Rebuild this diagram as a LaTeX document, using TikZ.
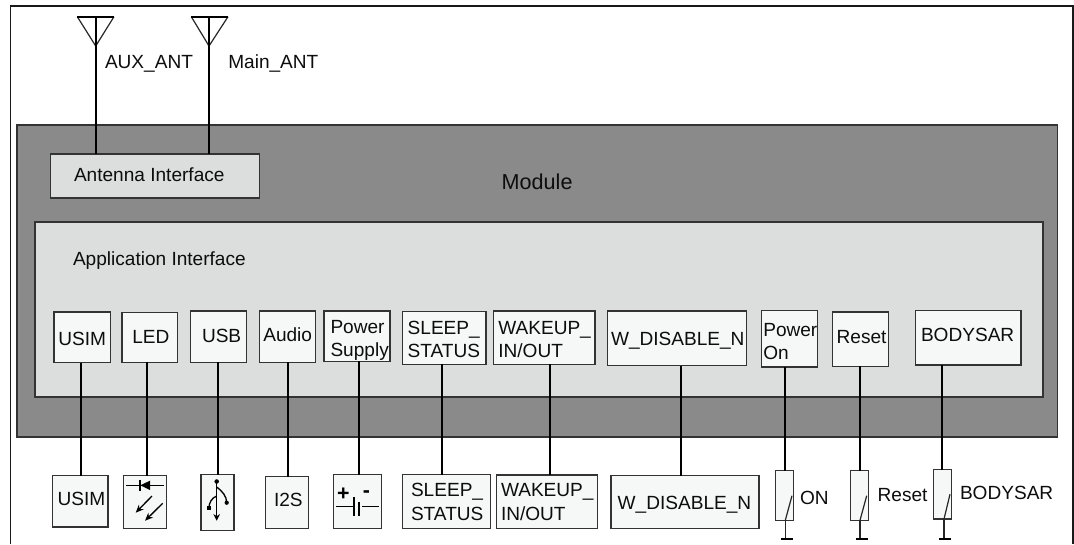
\documentclass[tikz,border=0pt]{standalone}
\usepackage{fontspec}
\setmainfont{Liberation Sans}
\usetikzlibrary{arrows.meta}
\definecolor{modgray}{HTML}{8A8A8A}
\definecolor{ifgray}{HTML}{DCDDDD}
\definecolor{boxgray}{HTML}{F6F7F7}
\definecolor{edge}{HTML}{333333}
\tikzset{
  every node/.style={font=\fontsize{14.3}{17.7}\selectfont,text=black!95},
  boxbase/.style={rectangle,draw=edge,line width=1pt,inner sep=0pt,outer sep=0pt},
  module/.style={boxbase,fill=modgray},
  iface/.style={boxbase,fill=ifgray},
  whitebox/.style={boxbase,fill=boxgray},
  wire/.style={draw=black,line width=1.6pt},
  thinline/.style={draw=black!85,line width=0.9pt},
  iconline/.style={draw=black,line width=1pt},
  lbl/.style={anchor=base west,inner sep=0pt,outer sep=0pt},
  sign/.style={inner sep=0pt,font=\fontsize{16}{18}\selectfont\bfseries,text=black},
  frameline/.style={draw=black!90,line width=1.1pt}
}
% style, name, x0, y0, x1, y1, text left, first baseline, text (pixel coordinates)
\newcommand{\pxbox}[9][whitebox]{%
  \pgfmathsetmacro{\pxw}{(#5-#3)*0.75}%
  \pgfmathsetmacro{\pxh}{(#6-#4)*0.75}%
  \pgfmathsetmacro{\pxcx}{(#3+#5)/2}%
  \pgfmathsetmacro{\pxcy}{(#4+#6)/2}%
  \pgfmathsetmacro{\pxdx}{(#7-\pxcx)*0.75}%
  \pgfmathsetmacro{\pxdy}{(\pxcy-#8)*0.75}%
  \node[#1,minimum width=\pxw pt,minimum height=\pxh pt] (#2) at (\pxcx,\pxcy)
    {\raisebox{\pxdy pt}[0pt][0pt]{\makebox[0pt][l]{\hspace*{\pxdx pt}\begin{tabular}[t]{@{}l@{}}#9\end{tabular}}}};%
}
\begin{document}
\begin{tikzpicture}[x=0.75pt,y=-0.75pt]
\useasboundingbox (0,0) rectangle (1074,544);
% outer frame
\coordinate (fa) at (10.5,544); \coordinate (fb) at (10.5,6);
\coordinate (fc) at (1073,6); \coordinate (fd) at (1073,544);
\draw[frameline] (fa) -- (fb) -- (fc) -- (fd);

\pxbox[module]{module}{17}{125}{1057.5}{437}{501.7}{189.3}{\fontsize{16.2}{18}\selectfont Module}
\pxbox[iface]{appif}{35}{222}{1043}{397}{73}{265}{Application Interface}
\pxbox[iface]{antif}{50.5}{154}{259.5}{198}{74}{181.7}{Antenna Interface}

% top row
\pxbox{tusim}{54}{312}{110.5}{362.7}{58.3}{345}{USIM}
\pxbox{tled}{122}{312.7}{177.5}{362.3}{132.3}{343.7}{LED}
\pxbox{tusb}{190.7}{311}{246.7}{362.3}{202}{342.3}{USB}
\pxbox{taudio}{259.7}{311}{315.3}{362.3}{263.3}{341.3}{Audio}
\pxbox{tpower}{324}{311}{390}{361.3}{330.5}{333.3}{Power\\Supply}
\pxbox{tsleep}{402.7}{311.3}{486}{364.3}{407.7}{334.3}{SLEEP\_\\STATUS}
\pxbox{twake}{493.7}{311}{595}{364.3}{498.3}{334.3}{WAKEUP\_\\IN/OUT}
\pxbox{tdis}{607.3}{311}{746.3}{365.7}{611}{345}{W\_DISABLE\_N}
\pxbox{ton}{761.7}{310.3}{817.3}{367}{763.3}{336}{Power\\On}
\pxbox{treset}{832.3}{312}{888.3}{366.3}{836.7}{343.3}{Reset}
\pxbox{tbody}{915.3}{310.3}{1021}{365}{921}{341.7}{BODYSAR}

% bottom row
\pxbox{busim}{52.3}{475.7}{108}{527}{57.7}{505}{USIM}
\pxbox{bled}{123.3}{475.7}{166.3}{528.7}{0}{0}{}
\pxbox{busb}{201}{474.7}{234}{530.3}{0}{0}{}
\pxbox{bits}{265.3}{476.7}{308.3}{528.7}{274}{506.7}{I2S}
\pxbox{bbat}{333.3}{474.7}{381.7}{528.3}{0}{0}{}
\pxbox{bsleep}{402.7}{474.7}{490.3}{528.7}{411}{496.7}{SLEEP\_\\STATUS}
\pxbox{bwake}{496.3}{475}{597.3}{528.7}{501}{496.7}{WAKEUP\_\\IN/OUT}
\pxbox{bdis}{611}{475.7}{759}{528.7}{617.7}{509.3}{W\_DISABLE\_N}
\pxbox{bon}{775.7}{470.7}{793.3}{520.3}{0}{0}{}
\pxbox{breset}{850.7}{470.7}{868.7}{520.3}{0}{0}{}
\pxbox{bbody}{933.7}{469.7}{951.3}{519}{0}{0}{}

% connectors between the rows
\draw[wire] (81,0 |- tusim.south) -- (81,0 |- busim.north);
\draw[wire] (147,0 |- tled.south) -- (147,0 |- bled.north);
\draw[wire] (217.7,0 |- tusb.south) -- (217.7,0 |- busb.north);
\draw[wire] (287.7,0 |- taudio.south) -- (287.7,0 |- bits.north);
\draw[wire] (359,0 |- tpower.south) -- (359,0 |- bbat.north);
\draw[wire] (441.7,0 |- tsleep.south) -- (441.7,0 |- bsleep.north);
\draw[wire] (549.7,0 |- twake.south) -- (549.7,0 |- bwake.north);
\draw[wire] (681,0 |- tdis.south) -- (681,0 |- bdis.north);
\draw[wire] (785,0 |- ton.south) -- (785,0 |- bon.north);
\draw[wire] (859.7,0 |- treset.south) -- (859.7,0 |- breset.north);
\draw[wire] (941.7,0 |- tbody.south) -- (941.7,0 |- bbody.north);

% antennas
\coordinate (aA) at (95.7,16.7); \coordinate (aAl) at (77.3,16.7);
\coordinate (aAr) at (114,16.7); \coordinate (aAa) at (95.7,46);
\coordinate (aM) at (209,16.7); \coordinate (aMl) at (191.3,16.7);
\coordinate (aMr) at (228,16.7); \coordinate (aMa) at (209,46);
\draw[thinline] (aAl) -- (aAa) -- (aAr);
\draw[thinline] (aMl) -- (aMa) -- (aMr);
\draw[wire] (aAl) -- (aAr);
\draw[wire] (aMl) -- (aMr);
\draw[wire] (aA) -- (aA |- antif.north);
\draw[wire] (aM) -- (aM |- antif.north);
\node[lbl] (lblaux) at (105,68.3) {AUX\_ANT};
\node[lbl] (lblmain) at (228.3,68.3) {Main\_ANT};

% LED icon
\draw[iconline] (126,485.3) -- (164,485.3);
\draw[iconline] (140,480) -- (140,490.7);
\fill[black] (140.3,485.3) -- (150,480.7) -- (150,490) -- cycle;
\draw[iconline,-{Stealth[length=6pt,width=5pt]}] (152,496) -- (135.7,512.7);
\draw[iconline,-{Stealth[length=6pt,width=5pt]}] (162.7,503.3) -- (145,520.7);

% USB icon
\draw[iconline,-{Stealth[length=5pt,width=5pt]}] (216.7,481) -- (216.7,520.7);
\fill[black] (216.7,481.5) circle (1.7pt);
\draw[iconline] (216.7,487) .. controls (222,491) and (226.7,496) .. (226.7,502.7);
\fill[black] (226.7,502.7) circle (1.6pt);
\draw[iconline] (216.7,496) .. controls (211.5,498) and (209,503) .. (209,508);
\fill[black] (207,506) rectangle (211,510);

% battery icon
\draw[iconline] (336,506.7) -- (354,506.7);
\draw[iconline] (354,497.3) -- (354,516);
\draw[line width=1.5pt,black] (359.3,502) -- (359.3,515.5);
\draw[iconline] (362,506.7) -- (379,506.7);
\node[sign] (plus) at (343.3,494) {+};
\node[sign] (minus) at (366.3,494) {-};

% switches
\coordinate (gOn) at (785.3,539.4); \coordinate (gRe) at (860,539.4); \coordinate (gBo) at (944,539);
\draw[thinline] (785.3,0 |- bon.south) -- (792,495.7);
\draw[thinline] (860,0 |- breset.south) -- (866.7,495.7);
\draw[thinline] (944,0 |- bbody.south) -- (950,494.3);
\draw[thinline] (785.3,0 |- bon.south) -- (gOn);
\draw[thinline] (860,0 |- breset.south) -- (gRe);
\draw[thinline] (944,0 |- bbody.south) -- (gBo);
\draw[wire] (781,539.4) -- (792.7,539.4);
\draw[wire] (856,539.4) -- (868,539.4);
\draw[wire] (939,539) -- (950.7,539);
\node[lbl] (lblon) at (800,504.5) {ON};
\node[lbl] (lblreset) at (877.7,501.5) {Reset};
\node[lbl] (lblbody) at (960,499.5) {BODYSAR};
\end{tikzpicture}
\end{document}
